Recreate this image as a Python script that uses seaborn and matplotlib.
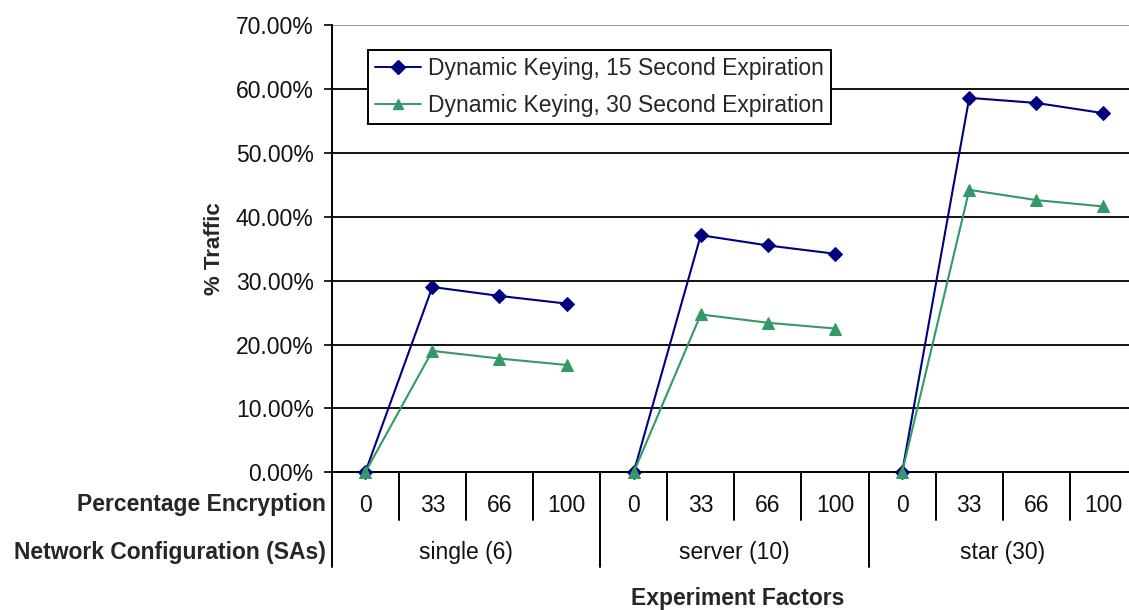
import matplotlib
matplotlib.use("Agg")
import matplotlib.pyplot as plt
import matplotlib.transforms as mtransforms
from matplotlib.lines import Line2D
from matplotlib import font_manager
import seaborn as sns
import pandas as pd

# ---- data -------------------------------------------------------------
configs = ["single (6)", "server (10)", "star (30)"]
encryption = ["0", "33", "66", "100"]
series_names = ["Dynamic Keying, 15 Second Expiration",
                "Dynamic Keying, 30 Second Expiration"]

traffic_15s = [0.0, 29.0, 27.6, 26.4,
               0.0, 37.1, 35.5, 34.2,
               0.0, 58.6, 57.8, 56.2]
traffic_30s = [0.0, 19.0, 17.8, 16.8,
               0.0, 24.7, 23.4, 22.5,
               0.0, 44.2, 42.6, 41.6]

y_ticks = [0, 10, 20, 30, 40, 50, 60, 70]

# ---- style ------------------------------------------------------------
sns.set_theme(style="white")
names = {f.name for f in font_manager.fontManager.ttflist}
base = "Liberation Sans Narrow" if "Liberation Sans Narrow" in names else "Liberation Sans"
plt.rcParams["font.family"] = [base, "DejaVu Sans"]

blue = "#000080"
green = "#339966"

rows = []
for i, (a, b) in enumerate(zip(traffic_15s, traffic_30s)):
    g = configs[i // 4]
    rows.append({"pos": i, "value": a, "series": series_names[0], "config": g})
    rows.append({"pos": i, "value": b, "series": series_names[1], "config": g})
df = pd.DataFrame(rows)

W, H, DPI = 1129, 610, 100
fig = plt.figure(figsize=(W / DPI, H / DPI), dpi=DPI)
left_px, right_px, top_px, bottom_px = 331.7, 1137.0, 25.0, 472.3
ax = fig.add_axes([left_px / W, 1 - bottom_px / H,
                   (right_px - left_px) / W, (bottom_px - top_px) / H])

styles = {series_names[0]: dict(color=blue, marker="D", ms=7.5),
          series_names[1]: dict(color=green, marker="^", ms=8.5)}

for (name, cfg), sub in df.groupby(["series", "config"], sort=False):
    st = styles[name]
    sns.lineplot(data=sub, x="pos", y="value", ax=ax, color=st["color"],
                 marker=st["marker"], markersize=st["ms"], markeredgecolor=st["color"],
                 linewidth=1.5, legend=False, zorder=4, clip_on=False)

ax.set_xlim(-0.5, len(traffic_15s) - 0.5)
ax.set_ylim(0, 70)
ax.set_yticks(y_ticks)
ax.set_yticklabels([f"{v:.2f}%" for v in y_ticks], fontsize=16.5, color="#111111")
ax.tick_params(axis="y", direction="out", length=6, width=1.2, color="black", pad=7, left=True)
ax.set_xticks([])
ax.set_xlabel("")

# horizontal grid
for v in y_ticks[1:-1]:
    ax.axhline(v, color="#111111", linewidth=1.4, zorder=1)
ax.axhline(70, color="#999999", linewidth=1.4, zorder=1)

for s in ["top", "right"]:
    ax.spines[s].set_visible(False)
ax.spines["left"].set_color("black")
ax.spines["left"].set_linewidth(1.4)
ax.spines["bottom"].set_color("black")
ax.spines["bottom"].set_linewidth(1.4)

ax.set_ylabel("% Traffic", fontsize=16, fontweight="bold", labelpad=8)

# ---- multi-level category axis -----------------------------------------
trans = mtransforms.blended_transform_factory(ax.transData, ax.transAxes)
ax_h = bottom_px - top_px
def ay(px):  # pixel row below the axis -> axes fraction
    return -(px - bottom_px) / ax_h

short_end = ay(520)
long_end = ay(567)
for k in range(len(traffic_15s) + 1):
    b = k - 0.5
    end = long_end if k % 4 == 0 else short_end
    ax.add_line(Line2D([b, b], [0, end], transform=trans, color="black",
                       linewidth=1.4, clip_on=False))

for i in range(len(traffic_15s)):
    ax.text(i, ay(505), encryption[i % 4], transform=trans, ha="center", va="center",
            fontsize=16.5, color="#111111")
for g, name in enumerate(configs):
    ax.text(4 * g + 1.5, ay(553), name, transform=trans, ha="center", va="center",
            fontsize=16.5, color="#111111")

ax.text(-0.58, ay(505), "Percentage Encryption", transform=trans, ha="right",
        va="center", fontsize=16.5, fontweight="bold")
ax.text(-0.58, ay(552), "Network Configuration (SAs)", transform=trans, ha="right",
        va="center", fontsize=16.5, fontweight="bold")
ax.text(5.55, ay(598), "Experiment Factors", transform=trans, ha="center",
        va="center", fontsize=16.5, fontweight="bold")

# ---- legend ------------------------------------------------------------
handles = [Line2D([0], [0], color=styles[n]["color"], marker=styles[n]["marker"],
                  markersize=styles[n]["ms"] * 0.9, linewidth=1.4) for n in series_names]
leg = ax.legend(handles, series_names, loc="upper left",
                bbox_to_anchor=((368 - left_px) / (right_px - left_px), 1 - (50 - top_px) / ax_h),
                fontsize=16.5, frameon=True, fancybox=False, framealpha=1,
                edgecolor="black", handlelength=2.0, handletextpad=0.3,
                borderpad=0.32, labelspacing=0.6, borderaxespad=0)
leg.get_frame().set_linewidth(1.4)
leg.set_zorder(5)

fig.savefig("out.png", dpi=DPI)
